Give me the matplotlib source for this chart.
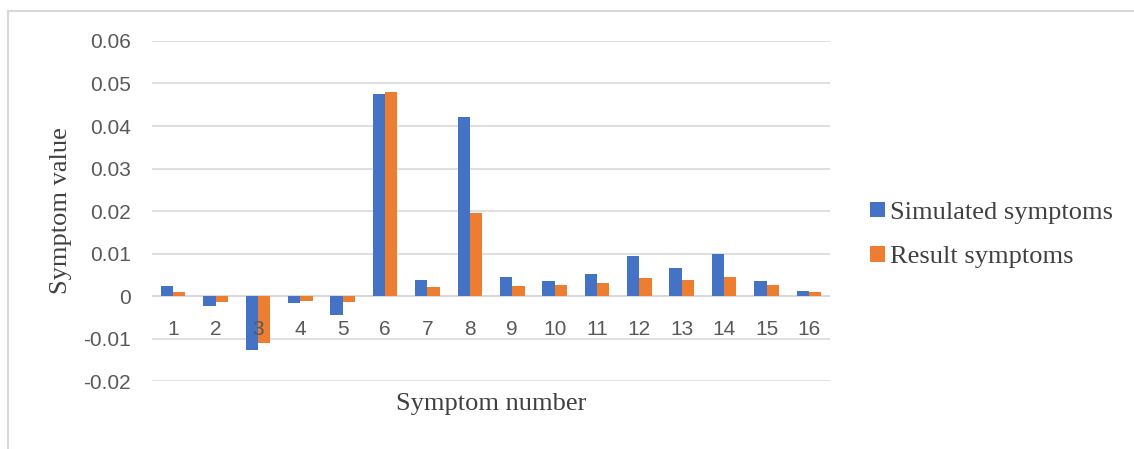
import matplotlib.pyplot as plt
import numpy as np
from matplotlib.lines import Line2D

# ==================================
# Data
# ==================================

symptoms = [str(i) for i in range(1, 17)]
simulated = [0.0024, -0.0023, -0.0127, -0.0017, -0.0045, 0.0475, 0.0038, 0.0422,
             0.0045, 0.0035, 0.0051, 0.0094, 0.0066, 0.0099, 0.0035, 0.0011]
result = [0.0010, -0.0013, -0.0110, -0.0012, -0.0014, 0.0480, 0.0021, 0.0195,
          0.0024, 0.0027, 0.0030, 0.0042, 0.0038, 0.0045, 0.0027, 0.0009]
y_ticks = [-0.02, -0.01, 0, 0.01, 0.02, 0.03, 0.04, 0.05, 0.06]
y_labels = ["-0.02", "-0.01", "0", "0.01", "0.02", "0.03", "0.04", "0.05", "0.06"]

# ==================================
# Figure
# ==================================

fig = plt.figure(figsize=(11.34, 4.49), dpi=100)
ax = fig.add_axes([0.134, 0.1514, 0.598, 0.7573])

x = np.arange(len(symptoms))
w = 0.29
ax.bar(x - w / 2, simulated, w, color="#4472C4", label="Simulated symptoms", zorder=3)
ax.bar(x + w / 2, result, w, color="#ED7D31", label="Result symptoms", zorder=3)

ax.set_xlim(-0.5, len(symptoms) - 0.5)
ax.set_ylim(-0.02, 0.06)
ax.set_yticks(y_ticks)
ax.set_yticklabels(y_labels, fontfamily="Liberation Sans")
ax.grid(axis="y", color="#D9D9D9", linewidth=1.2, zorder=0)
ax.axhline(0, color="#D9D9D9", linewidth=1.5, zorder=1)

for s in ax.spines.values():
    s.set_visible(False)

ax.set_xticks([])
ax.tick_params(axis="y", length=0, pad=15, labelsize=15, labelcolor="#595959")

# category labels sit just under the zero line, drawn over the bars
for i, lab in enumerate(symptoms):
    ax.annotate(lab, (i, 0), xytext=(0, -24), textcoords="offset points",
                ha="center", va="center", fontsize=15, color="#595959",
                fontfamily="Liberation Sans", zorder=5)

ax.set_ylabel("Symptom value", fontfamily="Liberation Serif", fontsize=19,
              color="#404040", labelpad=8)
ax.text(0.5, -0.068, "Symptom number", transform=ax.transAxes,
        ha="center", va="center", fontfamily="Liberation Serif", fontsize=19,
        color="#404040")

fig.legend(loc="center left", bbox_to_anchor=(870 / 1134, 1 - 235 / 449),
           frameon=False, prop={"family": "Liberation Serif", "size": 19},
           borderpad=0, borderaxespad=0,
           handlelength=0.55, handleheight=0.55, handletextpad=0.2,
           labelspacing=0.85, labelcolor="#404040")

# chart frame
fig.add_artist(Line2D([8 / 1134, 1], [1 - 11 / 449, 1 - 11 / 449],
                      transform=fig.transFigure, color="#D9D9D9", linewidth=1.5))
fig.add_artist(Line2D([8 / 1134, 8 / 1134], [0, 1 - 11 / 449],
                      transform=fig.transFigure, color="#D9D9D9", linewidth=1.5))

fig.savefig("out.png", dpi=100)
